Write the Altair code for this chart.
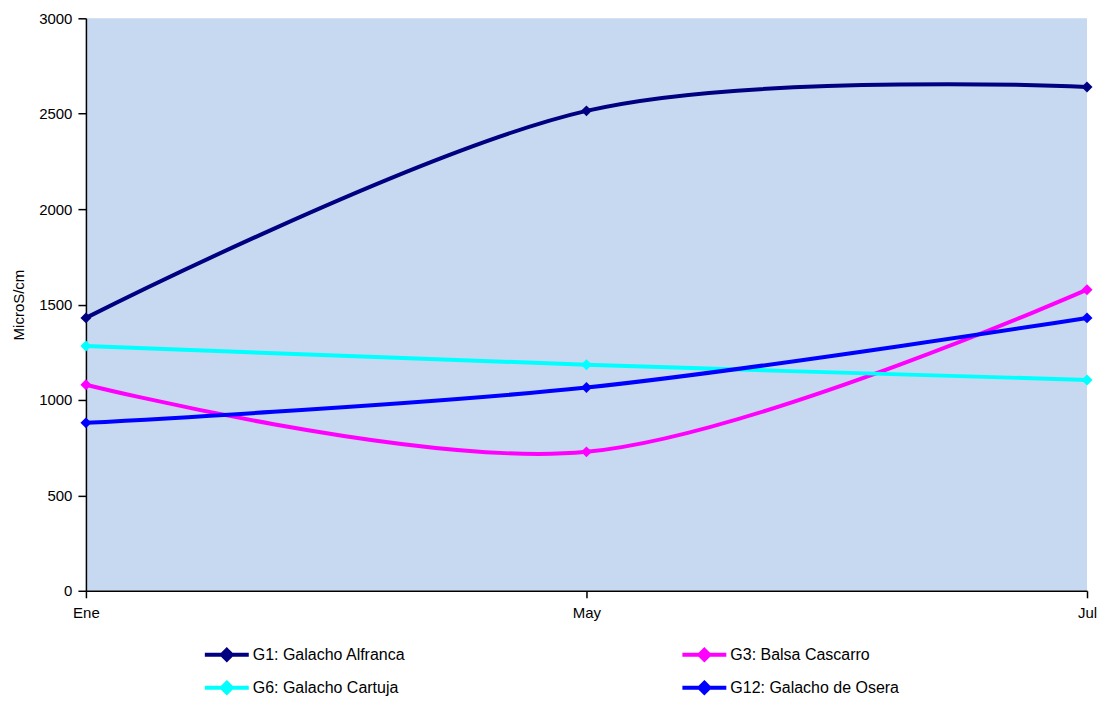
import altair as alt
import pandas as pd

months = ["Ene", "May", "Jul"]
series_names = ["G1: Galacho Alfranca", "G3: Balsa Cascarro", "G6: Galacho Cartuja", "G12: Galacho de Osera"]
g1 = [1430, 2515, 2640]
g3 = [1080, 728, 1578]
g6 = [1283, 1185, 1105]
g12 = [880, 1065, 1430]
colors = ["#000080", "#FF00FF", "#00FFFF", "#0000FF"]

rows = []
for name, vals in zip(series_names, [g1, g3, g6, g12]):
    for m, v in zip(months, vals):
        rows.append({"mes": m, "valor": v, "serie": name})
df = pd.DataFrame(rows)

sym_path = "M-2,0L2,0M0,-0.45L0.45,0L0,0.45L-0.45,0Z"

chart = alt.Chart(df).mark_line(
    interpolate="cardinal", tension=0, strokeWidth=4,
    point=alt.OverlayMarkDef(shape="diamond", filled=True, size=120, opacity=1),
).encode(
    x=alt.X("mes:N", sort=months, scale=alt.Scale(type="point", padding=0),
            axis=alt.Axis(title=None, labelAngle=0, labelFontSize=15, labelColor="black",
                          labelFont="Liberation Sans", domainColor="black", tickColor="black",
                          tickSize=7, labelPadding=8, grid=False, domainWidth=1.5, tickWidth=1.5)),
    y=alt.Y("valor:Q", scale=alt.Scale(domain=[0, 3000], nice=False),
            axis=alt.Axis(title="MicroS/cm", values=[0, 500, 1000, 1500, 2000, 2500, 3000],
                          format="d",
                          labelFontSize=15, labelColor="black", labelFont="Liberation Sans",
                          titleFont="Liberation Sans", titleFontSize=15, titleFontWeight="normal",
                          titleColor="black", titlePadding=12, domainColor="black",
                          tickColor="black", tickSize=8, labelPadding=6, grid=False,
                          domainWidth=1.5, tickWidth=1.5)),
    color=alt.Color("serie:N", sort=series_names,
                    scale=alt.Scale(domain=series_names, range=colors),
                    legend=alt.Legend(title=None, orient="none", legendX=128, legendY=624,
                                      direction="horizontal",
                                      columns=2, columnPadding=269, rowPadding=7,
                                      symbolType=sym_path, symbolSize=484, symbolStrokeWidth=4,
                                      symbolOpacity=1,
                                      labelFontSize=16, labelFont="Liberation Sans", labelColor="black",
                                      labelOffset=13, labelLimit=400)),
).properties(
    width=1002, height=573,
    autosize=alt.AutoSizeParams(type="none"),
    padding={"left": 78, "top": 10, "right": 10, "bottom": 106},
).configure_view(
    fill="#C6D9F0", stroke=None
)

chart.save("out.html", embed_options={"renderer": "svg", "actions": False})
